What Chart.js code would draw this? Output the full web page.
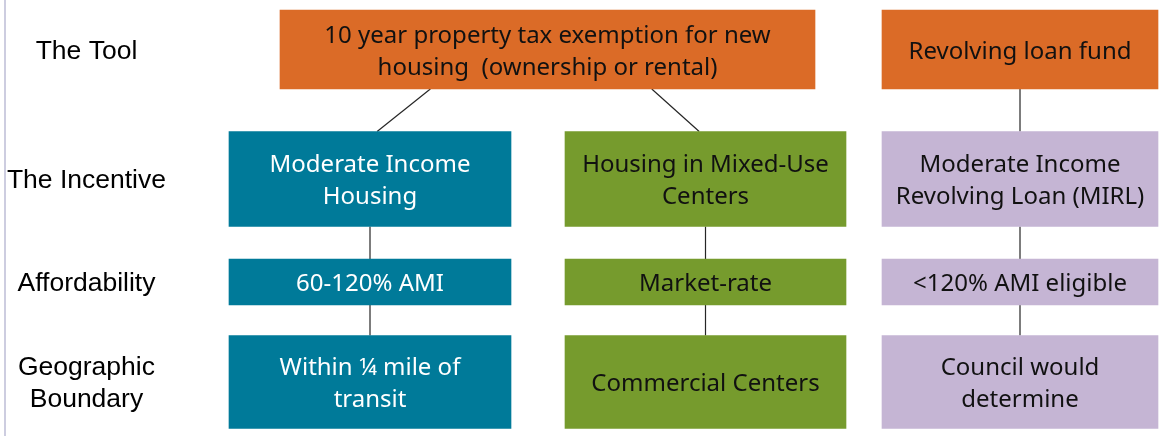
<!DOCTYPE html>
<html>
<head>
<meta charset="utf-8">
<script src="https://cdn.jsdelivr.net/npm/chart.js@4.4.1/dist/chart.umd.min.js"></script>
<style>
  html, body { margin: 0; padding: 0; background: #fff; }
  #wrap { position: relative; width: 1160px; height: 436px; }
  #edge { position: absolute; left: 4px; top: 0; width: 2px; height: 436px; background: #cdcde0; }
</style>
</head>
<body>
<div id="wrap">
  <div id="edge"></div>
  <canvas id="diagram"></canvas>
</div>
<script>
// row titles down the left side
const rowLabels = [['The Tool'], ['The Incentive'], ['Affordability'], ['Geographic', 'Boundary']];

// box texts, one array per row
const toolLabels = [['10 year property tax exemption for new', 'housing  (ownership or rental)'], ['Revolving loan fund']];
const incentiveLabels = [['Moderate Income', 'Housing'], ['Housing in Mixed-Use', 'Centers'], ['Moderate Income', 'Revolving Loan (MIRL)']];
const affordabilityLabels = [['60-120% AMI'], ['Market-rate'], ['<120% AMI eligible']];
const boundaryLabels = [['Within ¼ mile of', 'transit'], ['Commercial Centers'], ['Council would', 'determine']];

// diagram layout (in axis units)
const toolSpans = [[280, 815], [882, 1158]];
const columnSpans = [[229, 511], [565, 846], [882, 1158]];
const rowCenters = [49.5, 179, 282, 382];
const rowHeights = [79, 95, 46, 93];

// which tool feeds which incentive column
const toolChildren = [[0, 1], [2]];

const toolColor = '#DB6B27';
const columnColors = ['#007A99', '#769B2D', '#C5B5D4'];
const columnTextColors = ['#ffffff', '#111111', '#111111'];

const rowTop = r => rowCenters[r] - rowHeights[r] / 2;
const rowBottom = r => rowCenters[r] + rowHeights[r] / 2;
const mid = s => (s[0] + s[1]) / 2;

function boxRow(r, spans, texts, colors, textColors) {
    return {
        type: 'bar',
        data: spans.map(s => ({ x: s, y: rowCenters[r] })),
        backgroundColor: colors,
        barThickness: rowHeights[r],
        grouped: false,
        borderWidth: 0,
        boxText: texts,
        boxTextColor: textColors
    };
}

function connector(x1, y1, x2, y2) {
    return {
        type: 'line',
        data: [{ x: x1, y: y1 }, { x: x2, y: y2 }],
        borderColor: '#262626',
        borderWidth: 1.2,
        pointRadius: 0,
        fill: false
    };
}

const datasets = [
    boxRow(0, toolSpans, toolLabels, [toolColor, toolColor], ['#111111', '#111111']),
    boxRow(1, columnSpans, incentiveLabels, columnColors, columnTextColors),
    boxRow(2, columnSpans, affordabilityLabels, columnColors, columnTextColors),
    boxRow(3, columnSpans, boundaryLabels, columnColors, columnTextColors)
];

// lines from tools down to incentives
toolChildren.forEach((kids, t) => {
    const pc = mid(toolSpans[t]);
    kids.forEach(c => {
        const cc = mid(columnSpans[c]);
        datasets.push(connector(pc + 0.66 * (cc - pc), rowBottom(0), cc - 0.04 * (cc - pc), rowTop(1)));
    });
});
// vertical lines inside each column
columnSpans.forEach(s => {
    for (let r = 1; r < 3; r++) {
        datasets.push(connector(mid(s), rowBottom(r), mid(s), rowTop(r + 1)));
    }
});

const boxTextPlugin = {
    id: 'boxText',
    afterDatasetsDraw(chart) {
        const ctx = chart.ctx;
        ctx.save();
        ctx.font = '24px "Noto Sans"';
        ctx.textAlign = 'center';
        ctx.textBaseline = 'middle';
        chart.data.datasets.forEach((ds, di) => {
            if (!ds.boxText) return;
            chart.getDatasetMeta(di).data.forEach((bar, i) => {
                const p = bar.getProps(['x', 'y', 'base'], true);
                const cx = (p.x + p.base) / 2;
                const lines = ds.boxText[i];
                const lh = 32;
                ctx.fillStyle = ds.boxTextColor[i];
                lines.forEach((line, k) => {
                    ctx.fillText(line, cx, p.y + (k - (lines.length - 1) / 2) * lh + 2.5);
                });
            });
        });
        ctx.restore();
    }
};

new Chart(document.getElementById('diagram'), {
    type: 'bar',
    data: { datasets: datasets },
    options: {
        indexAxis: 'y',
        responsive: true,
        maintainAspectRatio: false,
        animation: false,
        layout: { padding: 0 },
        plugins: { legend: { display: false }, tooltip: { enabled: false } },
        scales: {
            x: {
                type: 'linear',
                min: 200,
                max: 1160,
                offset: false,
                display: false
            },
            y: {
                type: 'linear',
                min: 0,
                max: 436,
                offset: false,
                reverse: true,
                grid: { display: false, offset: false },
                border: { display: false },
                afterFit: axis => {
                    axis.width = 200;
                    axis.paddingTop = 0;
                    axis.paddingBottom = 0;
                },
                afterBuildTicks: axis => { axis.ticks = rowCenters.map(v => ({ value: v })); },
                ticks: {
                    autoSkip: false,
                    crossAlign: 'center',
                    padding: 26,
                    labelOffset: 2,
                    color: '#000',
                    font: { family: '"Liberation Sans", Arial', size: 26.5, lineHeight: 1.2 },
                    callback: (v, i) => rowLabels[i]
                }
            }
        }
    },
    plugins: [boxTextPlugin]
});
</script>
</body>
</html>
